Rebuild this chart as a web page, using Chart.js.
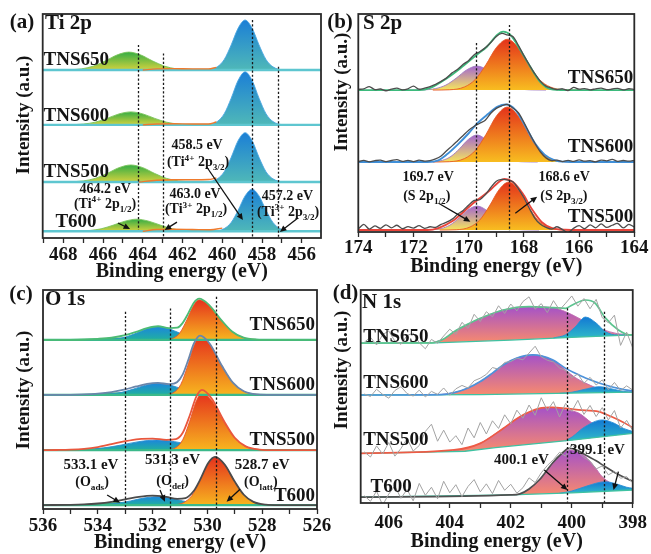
<!DOCTYPE html>
<html><head><meta charset="utf-8"><title>XPS spectra</title>
<script src="https://cdn.jsdelivr.net/npm/chart.js@4.4.1/dist/chart.umd.min.js"></script>
<style>
html,body{margin:0;padding:0;background:#fff}
#wrap{position:relative;width:651px;height:554px;overflow:hidden;background:#fff}
#wrap canvas{position:absolute;left:0;top:0}
</style></head><body>
<div id="wrap">
<canvas id="pa" width="651" height="554"></canvas>
<canvas id="pb" width="651" height="554"></canvas>
<canvas id="pc" width="651" height="554"></canvas>
<canvas id="pd" width="651" height="554"></canvas>
</div>
<script>
const FONT = '"Liberation Serif","Times New Roman",Times,serif';
const INK = '#141414';

// ================= (a) Ti 2p =================
const A_TICKS = [468, 466, 464, 462, 460, 458, 456];
const A_SAMPLES = ['TNS650', 'TNS600', 'TNS500', 'T600'];
const A_OFFSETS = [75, 50.5, 25, 3];
const A_BG = [[469.04, 0], [455.03, 0]];
const A_TI4_32 = [
  [[461.25,0],[460.75,0.1],[460.25,1.4],[459.9,4.7],[459.55,11.2],[459.2,18.7],[458.85,22.3],[458.5,18.7],[458.15,11.2],[457.8,4.7],[457.45,1.4],[456.95,0.1],[456.45,0]],
  [[461.25,0],[460.75,0.1],[460.25,1.5],[459.9,5.0],[459.55,11.9],[459.2,19.9],[458.85,23.7],[458.5,19.9],[458.15,11.9],[457.8,5.0],[457.45,1.5],[456.95,0.1],[456.45,0]],
  [[461.25,0],[460.75,0.1],[460.25,1.4],[459.9,4.6],[459.55,11.0],[459.2,18.5],[458.85,22.0],[458.5,18.5],[458.15,11.0],[457.8,4.6],[457.45,1.4],[456.95,0.1],[456.45,0]],
  [[460.9,0],[460.4,0.1],[459.9,1.2],[459.55,3.95],[459.2,9.4],[458.85,15.8],[458.5,18.8],[458.15,15.8],[457.8,9.4],[457.45,3.95],[457.1,1.2],[456.6,0.1],[456.1,0]]
];
const A_TI4_12 = [
  [[467.9,0],[467.1,0.5],[466.5,1.7],[465.9,4.0],[465.3,6.7],[464.7,8.0],[464.1,6.7],[463.5,4.0],[462.9,1.7],[462.3,0.5],[461.5,0]],
  [[467.8,0],[467.0,0.36],[466.4,1.2],[465.8,2.9],[465.2,4.9],[464.6,5.8],[464.0,4.9],[463.4,2.9],[462.8,1.2],[462.2,0.36],[461.4,0]],
  [[467.8,0],[467.0,0.48],[466.4,1.6],[465.8,3.8],[465.2,6.4],[464.6,7.6],[464.0,6.4],[463.4,3.8],[462.8,1.6],[462.2,0.48],[461.4,0]],
  [[467.5,0],[466.7,0.34],[466.1,1.1],[465.5,2.7],[464.9,4.5],[464.3,5.4],[463.7,4.5],[463.1,2.7],[462.5,1.1],[461.9,0.34],[461.1,0]]
];
const A_TI3 = [
  [[464.0,0],[463.3,0.5],[462.5,0.6],[461.5,0.5],[460.7,0.5],[460.3,1.2]],
  [[464.0,0],[463.3,0.4],[462.5,0.5],[461.5,0.4],[460.7,0.4],[460.3,1.3]],
  [[464.2,0],[463.3,0.8],[462.5,1.0],[461.5,1.0],[460.7,1.1],[460.3,1.8]],
  [[464.0,0],[463.3,0.8],[462.5,0.9],[461.5,0.8],[460.6,0.7],[460.0,1.4]]
];
const A_VLINES = [[464.25, 86.2, 3.6], [463.0, 82.4, 0], [458.5, 97.3, 0], [457.2, 76.5, 0]];
const A_NOTES = [
  ['TNS650', 469.0, 79.5, 19, 'left'], ['TNS600', 469.0, 54.5, 19, 'left'],
  ['TNS500', 469.0, 29.5, 19, 'left'], ['T600', 468.4, 7.1, 19, 'left'],
  ['464.2 eV', 465.9, 21.9, 14, 'center'], ['(Ti^{4+} 2p_{1/2})', 465.9, 15.2, 14, 'center'],
  ['463.0 eV', 461.37, 19.6, 14, 'center'], ['(Ti^{3+} 2p_{1/2})', 461.32, 12.9, 14, 'center'],
  ['458.5 eV', 461.27, 41.5, 14, 'center'], ['(Ti^{4+} 2p_{3/2})', 461.22, 33.9, 14, 'center'],
  ['457.2 eV', 456.72, 18.75, 14, 'center'], ['(Ti^{3+} 2p_{3/2})', 456.69, 11.6, 14, 'center']
];
const A_ARROWS = [[465.25,6.7,464.64,4.0],[462.28,7.1,462.9,3.6],[460.78,31.7,458.96,8.0],[456.19,8.9,457.1,2.7]];

// ================= (b) S 2p =================
const B_TICKS = [174, 172, 170, 168, 166, 164];
const B_SAMPLES = ['TNS650', 'TNS600', 'TNS500'];
const B_OFFSETS = [65.1, 32.1, 0.9];
const B_S2P32 = [
  [[171.3,0],[170.7,0.14],[170.15,1.46],[169.76,4.9],[169.375,11.65],[168.99,19.6],[168.6,23.3],[168.21,19.6],[167.825,11.65],[167.44,4.9],[167.05,1.46],[166.5,0.14],[165.9,0]],
  [[171.3,0],[170.7,0.15],[170.15,1.6],[169.76,5.3],[169.375,12.6],[168.99,21.2],[168.6,25.2],[168.21,21.2],[167.825,12.6],[167.44,5.3],[167.05,1.6],[166.5,0.15],[165.9,0]],
  [[171.05,0],[170.45,0.14],[169.95,1.4],[169.6,4.6],[169.25,11.0],[168.9,18.5],[168.55,22.0],[168.2,18.5],[167.85,11.0],[167.5,4.6],[167.15,1.4],[166.65,0.14],[166.05,0]]
];
const B_S2P12 = [
  [[172.2,0],[171.7,0.08],[171.2,0.69],[170.825,2.3],[170.45,5.5],[170.075,9.24],[169.7,11],[169.325,9.24],[168.95,5.5],[168.575,2.3],[168.2,0.69],[167.7,0.08],[167.2,0]],
  [[171.9,0],[171.4,0.09],[170.95,0.78],[170.64,2.6],[170.325,6.2],[170.01,10.4],[169.7,12.4],[169.39,10.4],[169.075,6.2],[168.76,2.6],[168.45,0.78],[168.0,0.09],[167.5,0]],
  [[171.95,0],[171.45,0.08],[171.0,0.69],[170.675,2.3],[170.35,5.5],[170.025,9.24],[169.7,11],[169.375,9.24],[169.05,5.5],[168.725,2.3],[168.4,0.69],[167.95,0.08],[167.45,0]]
];
const B_ENV = [
  [[174,0],[171.8,0],[171.39,1],[170.79,5.4],[170.3,10],[169.72,16.1],[169.34,19.9],[168.97,25.3],[168.75,26.8],[168.49,25.3],[168.13,18.4],[167.77,10.7],[167.41,3.8],[167.04,0.5],[166.5,0],[164,0]],
  [[174,0],[171.5,0],[171.1,0.8],[170.8,3.4],[170.4,8.0],[170.0,13.2],[169.7,17.6],[169.3,22.0],[168.95,25.4],[168.65,26.4],[168.3,23.8],[167.95,16.5],[167.6,8.6],[167.25,3.4],[166.9,0.9],[166.5,0.1],[166,0],[164,0]],
  [[174,0],[171.5,0],[171.1,0.9],[170.6,4.0],[170.2,8.2],[169.85,12.2],[169.5,15.5],[169.2,18.6],[168.95,21.6],[168.7,23.4],[168.4,22.0],[168.05,16.8],[167.7,9.4],[167.35,3.6],[167.0,1.0],[166.5,0.1],[166,0],[164,0]]
];
const B_RAW_EV = [174.0,173.8,173.6,173.4,173.2,173.0,172.8,172.6,172.4,172.2,172.0,171.8,171.6,171.4,171.2,171.0,170.8,170.6,170.4,170.2,170.0,169.8,169.6,169.4,169.2,169.0,168.8,168.6,168.4,168.2,168.0,167.8,167.6,167.4,167.2,167.0,166.8,166.6,166.4,166.2,166.0,165.8,165.6,165.4,165.2,165.0,164.8,164.6,164.4,164.2,164.0];
const B_RAW_TNS650 = [0.3,0.6,1.6,0.2,0.5,-0.3,0.4,0.9,0.1,0.6,1.8,0.4,0.9,1.6,2.6,4.0,5.6,7.9,9.6,11.8,13.6,16.2,17.6,19.4,21.8,24.6,26.0,25.3,24.6,20.5,15.8,11.5,7.4,4.0,1.8,0.9,0.2,0.6,-0.2,1.2,0.4,0.7,0.1,0.6,0.9,0.2,0.5,0.8,0.1,0.6,0.3];
const B_RAW_TNS600 = [0.2,0.8,0.1,0.6,0.9,0.2,0.7,1.1,0.3,0.8,0.2,0.9,0.4,0.6,1.4,2.8,5.2,7.4,9.8,12.2,14.6,16.4,17.8,19.2,22.4,24.6,25.8,26.4,24.8,22.6,18.2,13.2,8.6,4.6,1.9,0.6,0.9,0.2,0.8,0.3,1.0,0.4,0.6,0.1,0.9,0.5,1.2,0.3,0.7,0.4,0.8];
const B_RAW_TNS500 = [0.5,2.6,0.4,1.9,0.8,2.4,1.0,2.2,0.6,1.6,0.9,2.0,0.8,1.5,1.2,2.6,3.6,5.0,7.2,9.0,11.5,13.6,13.9,16.2,19.5,22.4,23.2,23.0,22.2,18.9,14.8,9.9,5.4,2.6,1.2,0.4,1.5,0.2,-1.2,0.8,2.0,0.6,2.4,1.0,2.8,1.2,2.2,3.0,1.0,2.6,1.4];
const B_VLINES = [[169.72, 86.7, 0.5], [168.55, 95, 0.5]];
const B_NOTES = [
  ['TNS650', 164.04, 70.6, 19, 'right'], ['TNS600', 164.04, 39.1, 19, 'right'], ['TNS500', 164.04, 7.0, 19, 'right'],
  ['169.7 eV', 171.47, 25.0, 14, 'center'], ['(S 2p_{1/2})', 171.52, 16.2, 14, 'center'],
  ['168.6 eV', 166.54, 25.0, 14, 'center'], ['(S 2p_{3/2})', 166.55, 16.2, 14, 'center']
];
const B_ARROWS = [[171.09,13.2,169.94,4.7],[168.31,8.6,167.52,16.2]];

// ================= (c) O 1s =================
const C_TICKS = [536, 534, 532, 530, 528, 526];
const C_SAMPLES = ['TNS650', 'TNS600', 'TNS500', 'T600'];
const C_OFFSETS = [77.2, 52.1, 26.9, 1.8];
const C_BG = [[536, 0], [526, 0]];
const C_OLATT = [
  [[531.8,0],[531.55,0.08],[531.25,0.8],[531.0,3.3],[530.75,9.15],[530.5,15.9],[530.3,18.3],[529.95,16.0],[529.5,9.15],[529.1,3.85],[528.7,1.15],[528.2,0.16],[527.7,0]],
  [[531.77,0],[531.52,0.12],[531.22,1.17],[530.97,4.8],[530.72,13.25],[530.47,23.1],[530.27,26.5],[529.92,23.2],[529.47,13.25],[529.07,5.57],[528.67,1.67],[528.17,0.22],[527.67,0]],
  [[531.7,0],[531.45,0.12],[531.15,1.15],[530.9,4.7],[530.65,13.0],[530.4,22.6],[530.2,26.0],[529.85,22.8],[529.4,13.0],[529.0,5.46],[528.6,1.64],[528.1,0.22],[527.6,0]],
  [[531.62,0],[531.22,0.13],[530.87,1.1],[530.57,4.3],[530.27,10.95],[529.97,19.0],[529.72,21.9],[529.37,18.5],[529.02,11.1],[528.67,4.7],[528.32,1.44],[527.87,0.19],[527.42,0]]
];
const C_ODEF = [
  [[534.4,0],[533.9,0.05],[533.4,0.38],[533.0,1.28],[532.6,3.05],[532.2,5.1],[531.8,6.1],[531.4,5.1],[531.0,3.05],[530.6,1.28],[530.2,0.38],[529.7,0.05],[529.2,0]],
  [[534.8,0],[534.2,0.04],[533.6,0.33],[533.15,1.11],[532.7,2.65],[532.25,4.45],[531.8,5.3],[531.35,4.45],[530.9,2.65],[530.45,1.11],[530.0,0.33],[529.4,0.04],[528.8,0]],
  [[535.95,0],[535.25,0.03],[534.45,0.29],[533.8,0.97],[533.15,2.3],[532.5,3.86],[531.85,4.6],[531.2,3.86],[530.55,2.3],[529.9,0.97],[529.25,0.29],[528.45,0.03],[527.75,0]],
  [[534.95,0],[534.35,0.03],[533.75,0.24],[533.275,0.8],[532.8,1.9],[532.325,3.19],[531.85,3.8],[531.375,3.19],[530.9,1.9],[530.425,0.8],[529.95,0.24],[529.35,0.03],[528.75,0]]
];
const C_OADS = [
  [[535.7,0],[535.0,0.06],[534.5,0.19],[534.0,0.45],[533.5,0.76],[533.0,0.9],[532.5,0.76],[532.0,0.45],[531.5,0.19],[531.0,0.06],[530.3,0]],
  [[535.7,0],[535.0,0.06],[534.5,0.21],[534.0,0.5],[533.5,0.84],[533.0,1.0],[532.5,0.84],[532.0,0.5],[531.5,0.21],[531.0,0.06],[530.3,0]],
  [[535.7,0],[535.0,0.09],[534.5,0.29],[534.0,0.7],[533.5,1.18],[533.0,1.4],[532.5,1.18],[532.0,0.7],[531.5,0.29],[531.0,0.09],[530.3,0]],
  [[535.7,0],[535.0,0.08],[534.5,0.25],[534.0,0.6],[533.5,1.0],[533.0,1.2],[532.5,1.0],[532.0,0.6],[531.5,0.25],[531.0,0.08],[530.3,0]]
];
const C_ENV = [
  [[536,0],[535,0.06],[534.5,0.2],[534,0.5],[533.5,1.05],[533,2.2],[532.6,3.7],[532.2,5.4],[531.8,6.25],[531.4,5.4],[531.1,5.6],[530.9,7.8],[530.7,12.1],[530.5,16.9],[530.3,18.85],[529.95,16.1],[529.5,9.2],[529.1,3.85],[528.7,1.15],[528.2,0.16],[527.7,0],[526,0]],
  [[536,0],[535,0.05],[534.5,0.22],[534,0.58],[533.5,1.3],[533,2.55],[532.6,3.85],[532.2,5.0],[531.8,5.45],[531.4,4.95],[531.1,5.9],[530.9,9.35],[530.7,15.9],[530.5,23.3],[530.27,27.1],[529.92,23.5],[529.47,13.3],[529.07,5.6],[528.67,1.67],[528.17,0.22],[527.67,0],[526,0]],
  [[536,0],[535.5,0.04],[535,0.17],[534.5,0.56],[534,1.39],[533.5,2.69],[533,4.07],[532.5,5.05],[532,5.25],[531.5,4.67],[531.15,5.0],[530.9,7.9],[530.65,15.55],[530.4,24.5],[530.2,27.5],[529.85,23.7],[529.4,13.4],[529.0,5.63],[528.6,1.7],[528.1,0.24],[527.6,0],[526,0]],
  [[536,0],[535,0.08],[534.5,0.27],[534,0.71],[533.5,1.47],[533,2.58],[532.5,3.74],[532,4.32],[531.5,3.71],[531.1,2.85],[530.8,3.2],[530.5,6.4],[530.27,11.5],[529.97,19.25],[529.72,22.0],[529.37,18.5],[529.02,11.1],[528.67,4.7],[528.32,1.44],[527.87,0.19],[527.42,0],[526,0]]
];
const C_VLINES = [[533.0, 90.1, 0], [531.35, 91.6, 0], [529.7, 96.9, 0]];
const C_NOTES = [
  ['TNS650', 526.07, 84, 19, 'right'], ['TNS600', 526.07, 56.6, 19, 'right'],
  ['TNS500', 526.07, 31.5, 19, 'right'], ['T600', 526.07, 5.8, 19, 'right'],
  ['533.1 eV', 534.25, 20.1, 15, 'center'], ['(O_{ads})', 534.21, 12.1, 14, 'center'],
  ['531.3 eV', 531.27, 22.4, 15, 'center'], ['(O_{def})', 531.27, 12.8, 14, 'center'],
  ['528.7 eV', 528.0, 20.1, 15, 'center'], ['(O_{latt})', 528.05, 12.1, 14, 'center']
];
const C_ARROWS = [[533.66,6.4,533.19,2.9],[531.73,8.7,531.55,3.3],[528.81,9.0,529.3,3.3]];

// ================= (d) N 1s =================
const D_TICKS = [406, 404, 402, 400, 398];
const D_SAMPLES = ['TNS650', 'TNS600', 'TNS500', 'T600'];
const D_BASE = [
  [[406.92,75.1],[404.5,75.2],[402,76.5],[400,77.8],[398,78.9]],
  [[406.92,50.7],[403,50.9],[400.5,51.5],[398,52.1]],
  [[406.92,23.3],[403.5,24.3],[402.5,26.0],[400,29.5],[398,32.7]],
  [[406.92,2.8],[402,3.8],[400,4.8],[398,6.1]]
];
const D_PINK = [
  [[404.6,75.2],[404.2,77.0],[403.86,80.4],[403.4,84.0],[403.0,86.7],[402.25,90.6],[401.4,92.2],[400.6,91.7],[400.2,89.8],[399.8,87.0],[399.4,84.0],[399.0,81.5],[398.5,79.5],[398.0,78.9]],
  [[404.3,50.9],[403.86,51.8],[403.4,54.0],[403.0,57.0],[402.6,61.0],[402.25,64.8],[401.8,68.0],[401.28,69.5],[400.63,67.1],[400.2,62.4],[399.9,59.0],[399.55,56.3],[398.9,52.6],[398.4,52.0],[398.0,52.1]],
  [[403.9,24.5],[403.5,25.6],[403.0,28.0],[402.6,31.6],[402.25,35.0],[401.7,40.5],[401.06,44.4],[400.7,44.9],[400.2,43.8],[399.77,42.2],[399.33,37.5],[398.9,34.3],[398.4,32.9],[398.0,32.7]],
  [[401.9,3.8],[401.7,4.2],[401.4,6.5],[401.06,10.8],[400.63,18.6],[400.3,23.3],[400.09,24.9],[399.8,24.0],[399.55,21.7],[399.25,17.0],[399.0,12.3],[398.47,7.6],[398.0,6.1]]
];
const D_BLUE = [
  [[400.6,77.5],[400.2,79.0],[399.9,82.5],[399.55,87.3],[399.2,84.5],[398.9,80.5],[398.5,78.9],[398.2,78.9]],
  [[400.4,51.5],[400.0,52.0],[399.6,53.3],[399.1,54.6],[398.6,53.3],[398.3,52.4],[398.0,52.1]],
  [[400.2,29.2],[399.98,31.1],[399.6,35.5],[399.0,39.0],[398.6,37.4],[398.3,35.0],[398.0,33.6]],
  [[400.4,4.6],[400.0,5.6],[399.5,8.0],[398.9,10.0],[398.5,8.8],[398.2,7.4],[398.0,6.9]]
];
const D_ENV = [
  [[406.92,75.1],[404.6,75.2],[404.2,77.0],[403.86,80.4],[403.4,84.0],[403.0,86.7],[402.25,90.6],[401.4,92.2],[400.6,91.7],[400.2,91.4],[399.98,93.0],[399.55,95.3],[399.24,93.9],[398.9,86.9],[398.47,81.2],[398.1,78.9],[398.0,78.9]],
  [[406.92,50.7],[404.3,50.9],[403.86,51.8],[403.4,54.0],[403.0,57.0],[402.6,61.0],[402.25,64.8],[401.8,68.0],[401.28,69.5],[400.63,67.2],[400.2,63.2],[399.9,61.0],[399.55,58.7],[398.9,55.4],[398.4,53.6],[398.0,52.6]],
  [[406.92,23.3],[403.86,24.9],[403.0,28.0],[402.25,35.0],[401.7,40.5],[401.06,44.4],[400.63,44.9],[400.2,44.4],[399.77,43.7],[399.12,42.9],[398.69,40.5],[398.3,37.8],[398.0,35.4]],
  [[406.92,2.8],[402,3.8],[401.7,4.3],[401.4,6.6],[401.06,10.9],[400.63,18.8],[400.3,23.6],[400.09,25.7],[399.8,24.6],[399.55,22.5],[399.2,19.8],[398.9,17.0],[398.5,13.6],[398.1,10.8],[398.0,10.2]]
];
const D_RAW_EV = [406.8,406.6,406.4,406.2,406.0,405.8,405.6,405.4,405.2,405.0,404.8,404.6,404.4,404.2,404.0,403.8,403.6,403.4,403.2,403.0,402.8,402.6,402.4,402.2,402.0,401.8,401.6,401.4,401.2,401.0,400.8,400.6,400.4,400.2,400.0,399.8,399.6,399.4,399.2,399.0,398.8,398.6,398.4,398.2,398.0];
const D_RAW_TNS650 = [75.5,77.8,74.2,79.0,80.8,76.0,74.5,78.6,79.8,75.2,72.4,76.8,75.0,78.4,81.6,79.2,84.8,82.0,88.6,85.2,89.8,87.4,92.6,89.0,93.4,90.2,94.6,96.8,91.0,93.6,89.4,95.0,90.6,93.8,97.2,92.4,96.0,91.2,95.6,87.0,84.6,88.2,74.0,80.2,72.8];
const D_RAW_TNS600 = [51.2,50.0,53.4,51.0,49.2,52.8,54.6,51.4,50.2,53.0,49.8,52.4,51.0,54.0,50.6,53.6,55.2,54.0,57.4,58.6,60.4,63.6,62.8,66.0,66.4,68.0,67.2,70.4,73.6,68.6,67.0,66.2,63.4,62.2,58.8,60.6,56.2,59.0,55.4,57.8,53.2,56.6,52.8,55.0,53.0];
const D_RAW_TNS500 = [24.0,21.6,26.8,23.0,28.4,22.0,25.6,30.2,24.4,27.0,33.6,37.0,29.0,34.2,28.6,31.6,27.4,35.2,30.6,37.8,32.4,38.6,35.0,41.4,37.2,43.6,39.8,46.0,41.2,49.4,43.4,47.6,40.4,46.8,43.0,48.2,41.6,45.8,40.6,44.8,39.0,43.4,35.2,38.8,34.0];
const D_RAW_T600 = [3.4,0.8,5.6,-1.0,4.2,8.0,2.2,6.4,1.0,9.2,3.6,7.4,2.0,10.2,4.8,8.6,3.0,7.8,11.0,5.2,9.0,4.4,10.6,6.0,8.8,4.6,7.2,11.8,9.6,14.2,17.6,20.4,23.8,22.0,27.6,24.0,21.4,19.6,16.0,17.4,13.2,14.8,11.6,12.4,9.4];
const D_VLINES = [[400.16, 91.4, 0], [398.93, 89.8, 0]];
const D_NOTES = [
  ['TNS650', 406.84, 78.1, 19, 'left'], ['TNS600', 406.84, 56.2, 19, 'left'],
  ['TNS500', 406.84, 29.6, 19, 'left'], ['T600', 406.6, 7.7, 19, 'left'],
  ['400.1 eV', 401.65, 19.9, 15, 'center'], ['399.1 eV', 399.16, 24.9, 15, 'center']
];
const D_ARROWS = [[400.9,15.5,400.14,6.1],[398.47,14.7,398.63,6.1]];

// ================= helpers =================
function shift(arr, off) { return arr.map(p => ({ x: p[0], y: p[1] + off })); }
function pairs(xs, ys, off) { return xs.map((x, i) => ({ x: x, y: ys[i] + (off || 0) })); }

function gradFill(top, bottom) {
  return (ctx) => {
    const chart = ctx.chart, ca = chart.chartArea;
    if (!ca || !chart.scales.y) return bottom;
    const ds = ctx.dataset;
    const vals = ds.data.map(p => p.y);
    const y0 = chart.scales.y.getPixelForValue(Math.max.apply(null, vals));
    const y1 = chart.scales.y.getPixelForValue(Math.min.apply(null, vals));
    if (!isFinite(y0) || !isFinite(y1) || y1 - y0 < 1) return bottom;
    const g = chart.ctx.createLinearGradient(0, y0, 0, y1);
    g.addColorStop(0, top); g.addColorStop(1, bottom);
    return g;
  };
}
function lineDS(data, color, width, extra) {
  return Object.assign({ data: data, borderColor: color, borderWidth: width, pointRadius: 0, fill: false,
    cubicInterpolationMode: 'monotone', order: 1 }, extra || {});
}
function peakDS(data, fill, top, bottom, edge, order) {
  return { data: data, borderColor: edge, borderWidth: 0.9, pointRadius: 0, fill: fill,
    backgroundColor: gradFill(top, bottom), cubicInterpolationMode: 'monotone', order: order };
}

function parseRich(s) {
  const out = []; const re = /(\^|_)\{([^}]*)\}/g; let last = 0, m;
  while ((m = re.exec(s))) {
    if (m.index > last) out.push({ t: s.slice(last, m.index), k: 0 });
    out.push({ t: m[2], k: m[1] === '^' ? 1 : -1 });
    last = re.lastIndex;
  }
  if (last < s.length) out.push({ t: s.slice(last), k: 0 });
  return out;
}
function drawRich(c, s, x, y, size, align) {
  const parts = parseRich(s);
  const f = (sz) => 'bold ' + sz + 'px ' + FONT;
  let w = 0;
  parts.forEach(p => { c.font = f(p.k ? size * 0.66 : size); p.w = c.measureText(p.t).width; w += p.w; });
  let px = align === 'center' ? x - w / 2 : (align === 'right' ? x - w : x);
  c.fillStyle = INK; c.textBaseline = 'middle'; c.textAlign = 'left';
  parts.forEach(p => {
    c.font = f(p.k ? size * 0.66 : size);
    c.fillText(p.t, px, y - p.k * size * 0.33 + (p.k ? size * 0.05 : 0));
    px += p.w;
  });
}
function arrow(c, x0, y0, x1, y1) {
  const ang = Math.atan2(y1 - y0, x1 - x0), L = 6.5, W = 3;
  c.strokeStyle = '#111'; c.fillStyle = '#111'; c.lineWidth = 1.3; c.setLineDash([]);
  c.beginPath(); c.moveTo(x0, y0); c.lineTo(x1 - Math.cos(ang) * L * 0.8, y1 - Math.sin(ang) * L * 0.8); c.stroke();
  c.beginPath(); c.moveTo(x1, y1);
  c.lineTo(x1 - L * Math.cos(ang) + W * Math.sin(ang), y1 - L * Math.sin(ang) - W * Math.cos(ang));
  c.lineTo(x1 - L * Math.cos(ang) - W * Math.sin(ang), y1 - L * Math.sin(ang) + W * Math.cos(ang));
  c.closePath(); c.fill();
}
function makeDeco(D) {
  return {
    id: 'deco' + D.id,
    afterDatasetsDraw(chart) {
      const c = chart.ctx, X = chart.scales.x, Y = chart.scales.y;
      c.save();
      c.strokeStyle = '#1a1a1a'; c.lineWidth = 1.3; c.setLineDash([2.2, 2]);
      D.vlines.forEach(v => {
        const px = Math.round(X.getPixelForValue(v[0])) + 0.5;
        c.beginPath(); c.moveTo(px, Y.getPixelForValue(v[1])); c.lineTo(px, Y.getPixelForValue(v[2])); c.stroke();
      });
      c.restore();
    },
    afterDraw(chart) {
      const c = chart.ctx, X = chart.scales.x, Y = chart.scales.y, a = chart.chartArea;
      c.save();
      c.setLineDash([]);
      c.strokeStyle = '#2a2a2a'; c.lineWidth = 1.8;
      c.strokeRect(a.left, a.top, a.right - a.left, a.bottom - a.top);
      D.arrows.forEach(r => arrow(c, X.getPixelForValue(r[0]), Y.getPixelForValue(r[1]), X.getPixelForValue(r[2]), Y.getPixelForValue(r[3])));
      D.notes.forEach(n => drawRich(c, n[0], X.getPixelForValue(n[1]), Y.getPixelForValue(n[2]), n[3], n[4]));
      drawRich(c, D.tag[0], D.tag[1], D.tag[2], 21, 'center');
      drawRich(c, D.name[0], D.name[1], D.name[2], 21, 'left');
      drawRich(c, 'Binding energy (eV)', (a.left + a.right) / 2, D.xTitleY, 20, 'center');
      c.translate(D.yTitle[0], D.yTitle[1]); c.rotate(-Math.PI / 2);
      drawRich(c, 'Intensity (a.u.)', 0, 0, 19, 'center');
      c.restore();
    }
  };
}
function panel(id, G, datasets, D) {
  return new Chart(document.getElementById(id), {
    type: 'line',
    data: { datasets: datasets },
    options: {
      responsive: false, animation: false, events: [],
      layout: { padding: { left: G.left, right: 651 - G.right, top: G.top, bottom: 554 - G.bottom - 40 } },
      plugins: { legend: { display: false }, tooltip: { enabled: false } },
      scales: {
        x: {
          type: 'linear', reverse: true, min: G.xmin, max: G.xmax,
          afterFit: s => { s.height = 40; },
          border: { display: false },
          grid: { drawOnChartArea: false, drawTicks: true, tickLength: 5, tickWidth: 1.3, tickColor: '#2a2a2a' },
          ticks: {
            stepSize: 1, includeBounds: false, autoSkip: false, maxRotation: 0, minRotation: 0,
            padding: G.tickPad, color: INK, font: { family: FONT, size: 19, weight: 'bold' },
            callback: v => (G.ticks.indexOf(v) >= 0 ? String(v) : '')
          }
        },
        y: { display: false, min: 0, max: 100 }
      }
    },
    plugins: [makeDeco(D)]
  });
}

// ================= build (a) =================
(function () {
  const ds = [];
  A_SAMPLES.forEach((s, i) => {
    const o = A_OFFSETS[i];
    ds.push(lineDS(shift(A_TI3[i], o), '#ef7a2c', 1.4, { order: 1 }));
    ds.push(lineDS(shift(A_BG, o), '#5ec6d0', 2.4, { order: 2, cubicInterpolationMode: 'default', tension: 0 }));
    ds.push(peakDS(shift(A_TI4_32[i], o), { value: o }, '#1b7fd6', '#4fb8b8', '#4aa6e2', 3));
    ds.push(peakDS(shift(A_TI4_12[i], o), { value: o }, '#35ad45', '#d2d23e', '#7cc45a', 3));
  });
  panel('pa', { left: 42.7, right: 321, top: 14, bottom: 238, xmin: 455.03, xmax: 469.04, ticks: A_TICKS, tickPad: 1 }, ds,
    { id: 'a', vlines: A_VLINES, notes: A_NOTES, arrows: A_ARROWS, tag: ['(a)', 22, 23], name: ['Ti 2p', 45, 24], xTitleY: 272, yTitle: [24, 115] });
})();

// ================= build (b) =================
(function () {
  const ds = [];
  const raws = [B_RAW_TNS650, B_RAW_TNS600, B_RAW_TNS500];
  const envColors = ['#3dba7c', '#3f8fd8', '#e8443a'];
  B_SAMPLES.forEach((s, i) => {
    const o = B_OFFSETS[i];
    ds.push(lineDS(pairs(B_RAW_EV, raws[i], o), '#4d4d4d', 1.3, { order: 0, cubicInterpolationMode: 'default', tension: 0.3 }));
    ds.push(lineDS(shift(B_ENV[i], o), envColors[i], 1.9, { order: 1 }));
    ds.push(peakDS(shift(B_S2P32[i], o), { value: o }, '#e4321b', '#f8bd20', '#e65a2a', 3));
    ds.push(peakDS(shift(B_S2P12[i], o), { value: o }, '#a466cf', '#f6e65c', '#a07ac0', 4));
  });
  panel('pb', { left: 358.3, right: 634.3, top: 14, bottom: 232, xmin: 164, xmax: 174, ticks: B_TICKS, tickPad: 0 }, ds,
    { id: 'b', vlines: B_VLINES, notes: B_NOTES, arrows: B_ARROWS, tag: ['(b)', 340, 23], name: ['S 2p', 363, 24], xTitleY: 267, yTitle: [342.5, 92] });
})();

// ================= build (c) =================
(function () {
  const ds = [];
  const envColors = ['#4cbb74', '#6a86ab', '#e9573d', '#4b4b4b'];
  C_SAMPLES.forEach((s, i) => {
    const o = C_OFFSETS[i];
    ds.push(lineDS(shift(C_ENV[i], o), envColors[i], 1.8, { order: 1 }));
    ds.push(lineDS(shift(C_BG, o), '#3bb98a', 2.2, { order: 2, cubicInterpolationMode: 'default', tension: 0 }));
    ds.push(peakDS(shift(C_OLATT[i], o), { value: o }, '#e5321d', '#f7b51f', '#e7552a', 3));
    ds.push(peakDS(shift(C_ODEF[i], o), { value: o }, '#1c86dc', '#20b0a0', '#2a8fd0', 4));
    ds.push(peakDS(shift(C_OADS[i], o), { value: o }, '#31b36c', '#31b36c', '#31b36c', 5));
  });
  panel('pc', { left: 43, right: 317, top: 290, bottom: 509, xmin: 526, xmax: 536, ticks: C_TICKS, tickPad: 0.5 }, ds,
    { id: 'c', vlines: C_VLINES, notes: C_NOTES, arrows: C_ARROWS, tag: ['(c)', 21, 295], name: ['O 1s', 45, 300], xTitleY: 543, yTitle: [24, 390] });
})();

// ================= build (d) =================
(function () {
  const ds = [];
  const raws = [D_RAW_TNS650, D_RAW_TNS600, D_RAW_TNS500, D_RAW_T600];
  const envColors = ['#5cc48f', '#4d92da', '#ee5b45', '#505050'];
  D_SAMPLES.forEach((s, i) => {
    ds.push(lineDS(pairs(D_RAW_EV, raws[i]), '#a3a3a3', 1, { order: 0, cubicInterpolationMode: 'default', tension: 0 }));
    ds.push(lineDS(shift(D_ENV[i], 0), envColors[i], 1.7, { order: 1 }));
    const bi = ds.length;
    ds.push(lineDS(shift(D_BASE[i], 0), '#3fc2a2', 1.3, { order: 2, cubicInterpolationMode: 'default', tension: 0 }));
    ds.push(peakDS(shift(D_BLUE[i], 0), bi, '#1379d4', '#2fb8c9', '#2a8fd6', 3));
    ds.push(peakDS(shift(D_PINK[i], 0), bi, '#a552c8', '#f78a6e', '#c06ab0', 4));
  });
  panel('pd', { left: 360.7, right: 636, top: 290, bottom: 503, xmin: 398, xmax: 406.92, ticks: D_TICKS, tickPad: 4 }, ds,
    { id: 'd', vlines: D_VLINES, notes: D_NOTES, arrows: D_ARROWS, tag: ['(d)', 345.5, 293.5], name: ['N 1s', 362, 303], xTitleY: 542, yTitle: [342.5, 370] });
})();
</script>
</body></html>
